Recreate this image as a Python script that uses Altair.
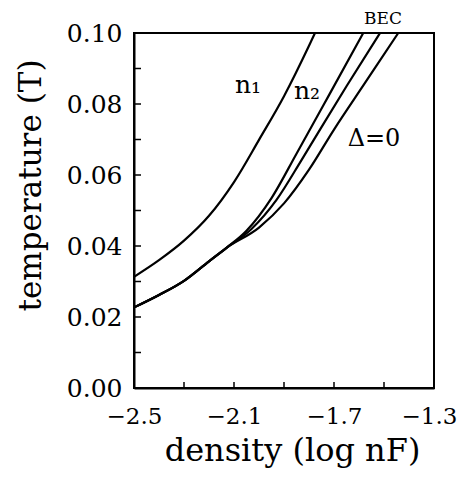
import altair as alt
import pandas as pd

# shared low-density branch of the three lower curves
common_x = [-2.5, -2.40, -2.30, -2.20, -2.13]
common_y = [0.0227, 0.0262, 0.0302, 0.0357, 0.0395]

n1_x = [-2.5, -2.40, -2.30, -2.20, -2.10, -2.00, -1.90, -1.80, -1.776]
n1_y = [0.0313, 0.0360, 0.0415, 0.0485, 0.0580, 0.0699, 0.0822, 0.0964, 0.1]

n2_x = [-2.05, -1.95, -1.85, -1.72, -1.583]
n2_y = [0.0443, 0.0535, 0.0660, 0.0825, 0.1]

c3_x = [-2.03, -1.93, -1.83, -1.75, -1.65, -1.516]
c3_y = [0.0448, 0.0530, 0.0642, 0.0735, 0.0850, 0.1]

d0_x = [-2.0, -1.90, -1.80, -1.70, -1.58, -1.443]
d0_y = [0.0452, 0.0520, 0.0615, 0.0728, 0.0855, 0.1]

x_label_values = [-2.5, -2.1, -1.7, -1.3]
y_label_values = [0.0, 0.02, 0.04, 0.06, 0.08, 0.10]
x_tick_values = [-2.3, -2.1, -1.9, -1.7, -1.5]
y_tick_values = [0.01, 0.02, 0.03, 0.04, 0.05, 0.06, 0.07, 0.08, 0.09]

ann_text = ["n\u2081", "n\u2082", "\u0394=0", "BEC"]
ann_x = [-2.044, -1.808, -1.54, -1.504]
ann_y = [0.0854, 0.0837, 0.0701, 0.1040]
ann_size = [25, 25, 24, 17]

rows = []
for i, (x, y) in enumerate(zip(n1_x, n1_y)):
    rows.append({"curve": "n1", "order": i, "x": x, "y": y})
for name, xs, ys in [("n2", n2_x, n2_y), ("c3", c3_x, c3_y), ("d0", d0_x, d0_y)]:
    allx = common_x + xs
    ally = common_y + ys
    for i, (x, y) in enumerate(zip(allx, ally)):
        rows.append({"curve": name, "order": i, "x": x, "y": y})
df = pd.DataFrame(rows)

FONT = "DejaVu Serif"

xscale = alt.Scale(domain=[-2.5, -1.3], nice=False, zero=False)
yscale = alt.Scale(domain=[0, 0.1], nice=False, zero=False)

lines = alt.Chart(df).mark_line(color="black", strokeWidth=2.2, interpolate="monotone").encode(
    x=alt.X("x:Q", scale=xscale,
            axis=alt.Axis(values=x_label_values, format=".1f", title="density (log nF)",
                          ticks=False, tickSize=0, labelPadding=17, labelFontSize=23,
                          labelOffset={"condition": {"test": "datum.value > -1.35", "value": -5}, "value": 0},
                          labelFont=FONT, labelColor="black", labelFlush=False, grid=False,
                          domainColor="black", domainWidth=2,
                          titleFont=FONT, titleFontSize=32, titleFontWeight="normal",
                          titleColor="black", titleX=158, titleY=72,
                          titleBaseline="alphabetic", titleAlign="center")),
    y=alt.Y("y:Q", scale=yscale,
            axis=alt.Axis(values=y_label_values, format=".2f", title="temperature (T)",
                          ticks=False, tickSize=0, labelPadding=12, labelFontSize=25,
                          labelFont=FONT, labelColor="black", labelFlush=False, grid=False,
                          domainColor="black", domainWidth=2,
                          titleFont=FONT, titleFontSize=31, titleFontWeight="normal",
                          titleColor="black", titleX=-103, titleY=152,
                          titleBaseline="middle", titleAlign="center", titleAngle=270)),
    detail="curve:N",
    order="order:Q",
)

xt = alt.Chart(pd.DataFrame({"t": x_tick_values})).mark_rule(color="black", strokeWidth=1.5).encode(
    x=alt.X("t:Q", scale=xscale),
    y=alt.value(355),
    y2=alt.value(349),
)
yt = alt.Chart(pd.DataFrame({"t": y_tick_values})).mark_rule(color="black", strokeWidth=1.5).encode(
    y=alt.Y("t:Q", scale=yscale),
    x=alt.value(0),
    x2=alt.value(7),
)

ann = alt.Chart(pd.DataFrame({"text": ann_text, "x": ann_x, "y": ann_y, "s": ann_size})).mark_text(
    font=FONT, color="black", align="center", baseline="middle"
).encode(
    x=alt.X("x:Q", scale=xscale),
    y=alt.Y("y:Q", scale=yscale),
    text="text:N",
    size=alt.Size("s:Q", scale=None, legend=None),
)

chart = alt.layer(lines, xt, yt, ann).properties(
    width=300, height=355,
    padding={"left": 126, "top": 25, "right": 24, "bottom": 83},
    autosize=alt.AutoSizeParams(type="none"),
    background="white",
).configure_view(stroke="black", strokeWidth=2)

chart.save("out.html", embed_options={"renderer": "svg", "actions": False})
